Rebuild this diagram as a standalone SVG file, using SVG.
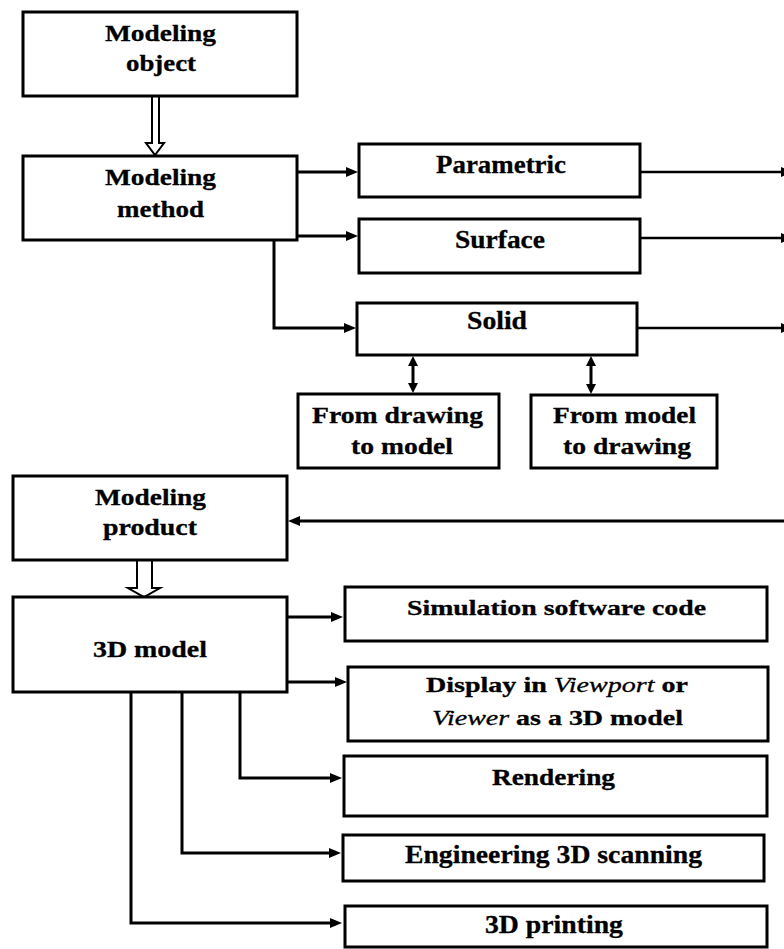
<svg xmlns="http://www.w3.org/2000/svg" width="784" height="949" viewBox="0 0 784 949">
<style>
.box{fill:#fff;stroke:#000;stroke-width:3}
.c{fill:none;stroke:#000;stroke-width:3}
.c2{fill:none;stroke:#000;stroke-width:2.5}
.h{fill:#fff;stroke:#000;stroke-width:2}
.t{font-family:"Liberation Serif","Times New Roman",serif;font-weight:bold;fill:#000;stroke:#000;stroke-width:0.3}
.i{font-family:"Liberation Serif","Times New Roman",serif;font-style:italic;font-weight:normal}
</style>
<defs>
<marker id="ah" markerUnits="userSpaceOnUse" markerWidth="12" markerHeight="10" refX="4" refY="5" orient="auto-start-reverse"><path d="M0,0 L12,5 L0,10 z" fill="#000"/></marker>
<marker id="ah2" markerUnits="userSpaceOnUse" markerWidth="10" markerHeight="10" refX="3" refY="5" orient="auto-start-reverse"><path d="M0,0 L10,5 L0,10 z" fill="#000"/></marker>
</defs>
<rect width="784" height="949" fill="#fff"/>
<g id="connectors">
<path class="h" d="M152,97 V143 H146 L155,155 L164,143 H159 V97"/>
<path class="h" d="M137,560 V588 H128 L144,597 L160,588 H152 V560"/>
<path class="c" d="M297,172 H350" marker-end="url(#ah)"/>
<path class="c" d="M297,236 H350" marker-end="url(#ah)"/>
<path class="c" d="M274,240 V328 H348" marker-end="url(#ah)"/>
<path class="c2" d="M640,172 H785" marker-end="url(#ah)"/>
<path class="c2" d="M640,238 H785" marker-end="url(#ah)"/>
<path class="c2" d="M637,328 H785" marker-end="url(#ah)"/>
<path class="c" d="M784,521 H296" marker-end="url(#ah)"/>
<path class="c" d="M413,363 V386" marker-start="url(#ah2)" marker-end="url(#ah2)"/>
<path class="c" d="M591,363 V387" marker-start="url(#ah2)" marker-end="url(#ah2)"/>
<path class="c" d="M287,617 H335" marker-end="url(#ah)"/>
<path class="c" d="M287,682 H339" marker-end="url(#ah)"/>
<path class="c" d="M240,692 V778 H334" marker-end="url(#ah)"/>
<path class="c" d="M182,692 V853 H333" marker-end="url(#ah)"/>
<path class="c" d="M131,692 V923 H334" marker-end="url(#ah)"/>
</g>
<g id="modeling-object">
<rect class="box" x="23" y="12" width="274" height="84"/>
<text class="t" font-size="24" x="105" y="41" textLength="111" lengthAdjust="spacingAndGlyphs">Modeling</text>
<text class="t" font-size="24" x="126" y="71" textLength="70" lengthAdjust="spacingAndGlyphs">object</text>
</g>
<g id="modeling-method">
<rect class="box" x="23" y="156" width="274" height="84"/>
<text class="t" font-size="24" x="105" y="185" textLength="111" lengthAdjust="spacingAndGlyphs">Modeling</text>
<text class="t" font-size="24" x="117" y="217" textLength="87" lengthAdjust="spacingAndGlyphs">method</text>
</g>
<g id="parametric">
<rect class="box" x="359" y="144" width="281" height="53"/>
<text class="t" font-size="26" x="436" y="173" textLength="130" lengthAdjust="spacingAndGlyphs">Parametric</text>
</g>
<g id="surface">
<rect class="box" x="359" y="219" width="281" height="54"/>
<text class="t" font-size="26" x="455" y="248" textLength="90" lengthAdjust="spacingAndGlyphs">Surface</text>
</g>
<g id="solid">
<rect class="box" x="357" y="303" width="280" height="52"/>
<text class="t" font-size="25" x="467" y="329" textLength="60" lengthAdjust="spacingAndGlyphs">Solid</text>
</g>
<g id="from-drawing">
<rect class="box" x="298" y="394" width="201" height="74"/>
<text class="t" font-size="24" x="312" y="423" textLength="171" lengthAdjust="spacingAndGlyphs">From drawing</text>
<text class="t" font-size="24" x="351" y="454" textLength="102" lengthAdjust="spacingAndGlyphs">to model</text>
</g>
<g id="from-model">
<rect class="box" x="531" y="395" width="186" height="73"/>
<text class="t" font-size="24" x="553" y="423" textLength="143" lengthAdjust="spacingAndGlyphs">From model</text>
<text class="t" font-size="24" x="563" y="454" textLength="128" lengthAdjust="spacingAndGlyphs">to drawing</text>
</g>
<g id="modeling-product">
<rect class="box" x="13" y="476" width="274" height="84"/>
<text class="t" font-size="24" x="95" y="505" textLength="111" lengthAdjust="spacingAndGlyphs">Modeling</text>
<text class="t" font-size="24" x="103" y="535" textLength="94" lengthAdjust="spacingAndGlyphs">product</text>
</g>
<g id="model-3d">
<rect class="box" x="13" y="597" width="274" height="95"/>
<text class="t" font-size="24" x="93" y="657" textLength="114" lengthAdjust="spacingAndGlyphs">3D model</text>
</g>
<g id="simulation">
<rect class="box" x="345" y="587" width="422" height="54"/>
<text class="t" font-size="22" x="407" y="615" textLength="299" lengthAdjust="spacingAndGlyphs">Simulation software code</text>
</g>
<g id="display">
<rect class="box" x="348" y="667" width="420" height="74"/>
<text class="t" font-size="22" x="426" y="692" textLength="262" lengthAdjust="spacingAndGlyphs">Display in <tspan class="i">Viewport</tspan> or</text>
<text class="t" font-size="22" x="432" y="725" textLength="251" lengthAdjust="spacingAndGlyphs"><tspan class="i">Viewer</tspan> as a 3D model</text>
</g>
<g id="rendering">
<rect class="box" x="344" y="756" width="423" height="60"/>
<text class="t" font-size="23" x="492" y="785" textLength="123" lengthAdjust="spacingAndGlyphs">Rendering</text>
</g>
<g id="scanning">
<rect class="box" x="343" y="835" width="421" height="46"/>
<text class="t" font-size="25" x="405" y="863" textLength="297" lengthAdjust="spacingAndGlyphs">Engineering 3D scanning</text>
</g>
<g id="printing">
<rect class="box" x="345" y="906" width="422" height="41"/>
<text class="t" font-size="25" x="485" y="933" textLength="138" lengthAdjust="spacingAndGlyphs">3D printing</text>
</g>
</svg>
